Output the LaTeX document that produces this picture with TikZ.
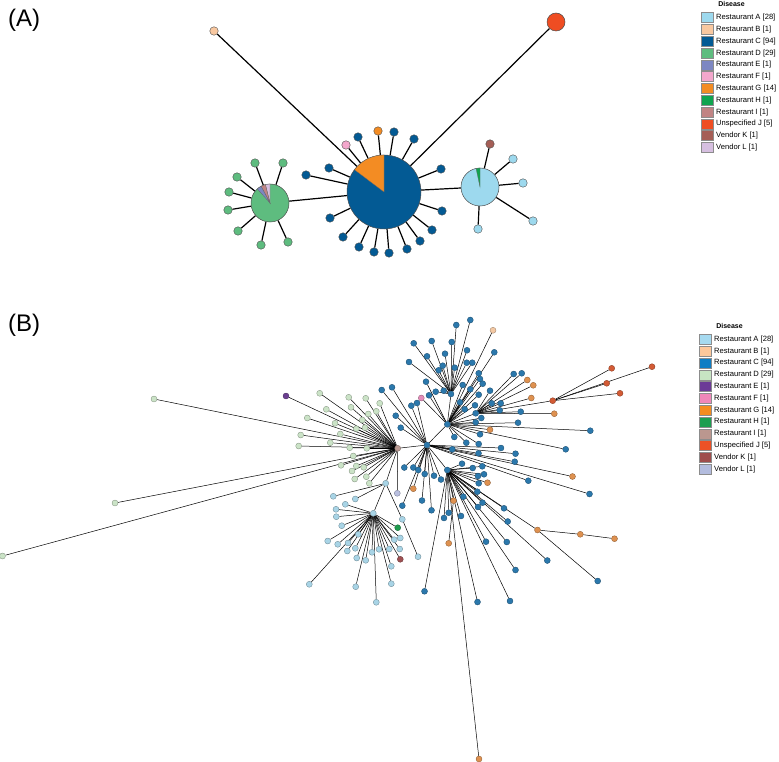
\documentclass[tikz,border=0pt]{standalone}
\usepackage{fontspec}
\setmainfont{Liberation Sans}
\pgfdeclarelayer{edges}
\pgfsetlayers{edges,main}
% panel A colours
\definecolor{AA}{HTML}{9DD9EE}
\definecolor{AB}{HTML}{F9C8A0}
\definecolor{AC}{HTML}{035A94}
\definecolor{AD}{HTML}{5EBC7F}
\definecolor{AE}{HTML}{7D87C2}
\definecolor{AF}{HTML}{F3A7CC}
\definecolor{AG}{HTML}{F38C23}
\definecolor{AH}{HTML}{0FA44F}
\definecolor{AI}{HTML}{C08484}
\definecolor{AJ}{HTML}{EF4D22}
\definecolor{AK}{HTML}{A55E56}
\definecolor{AL}{HTML}{D6BFE0}
% panel B legend colours
\definecolor{BA}{HTML}{A6DAF0}
\definecolor{BB}{HTML}{FDC89B}
\definecolor{BC}{HTML}{0D7DC4}
\definecolor{BD}{HTML}{C7E5C3}
\definecolor{BE}{HTML}{6C3A97}
\definecolor{BF}{HTML}{F087B9}
\definecolor{BG}{HTML}{F48C20}
\definecolor{BH}{HTML}{1C9E50}
\definecolor{BI}{HTML}{BB978F}
\definecolor{BJ}{HTML}{EC5126}
\definecolor{BK}{HTML}{9F4D4C}
\definecolor{BL}{HTML}{B3BCDE}
% panel B node colours
\definecolor{nA}{HTML}{A8D4E6}
\definecolor{nB}{HTML}{F3C8A3}
\definecolor{nC}{HTML}{2B78AC}
\definecolor{nD}{HTML}{CBE3C7}
\definecolor{nE}{HTML}{6B3F90}
\definecolor{nF}{HTML}{E38DBA}
\definecolor{nG}{HTML}{DE9150}
\definecolor{nH}{HTML}{1F9B4E}
\definecolor{nI}{HTML}{B99A92}
\definecolor{nJ}{HTML}{D35B35}
\definecolor{nK}{HTML}{9E5052}
\definecolor{nL}{HTML}{B9BFDF}
\newcommand\grp[6]{%
  \foreach \x/\y [count=\i] in {#6} {%
    \node[#2=#3] (#4\i) at (\x,\y) {};
    \begin{pgfonlayer}{edges}\draw[#5] (#1) -- (#4\i);\end{pgfonlayer}
  }}
\begin{document}
\begin{tikzpicture}[x=1pt,y=-1pt,
  aleaf/.style={circle,inner sep=0pt,minimum size=8.5pt,fill=#1,draw=black!70,line width=0.4pt},
  bleaf/.style={circle,inner sep=0pt,minimum size=6pt,fill=#1,draw=#1!65!black,line width=0.35pt},
  ahub/.style={circle,inner sep=0pt,fill=#1,draw=black!70,line width=0.5pt},
  aedge/.style={line width=1.2pt,black},
  bedge/.style={line width=0.5pt,black},
  legbox/.style={draw=black!45,line width=0.4pt,fill=#1,minimum width=12pt,minimum height=10pt,inner sep=0pt},
  legtext/.style={anchor=west,inner sep=0pt,font=\fontsize{7.6}{9}\selectfont},
  legtitle/.style={inner sep=0pt,font=\fontsize{7}{8}\selectfont\bfseries},
  panel/.style={anchor=west,inner sep=0pt,font=\fontsize{24}{28}\selectfont},
  wedge/.style={draw=black!60,line width=0.3pt}
]
\useasboundingbox (0,0) rectangle (779,762);

% ---------------- panel labels
\node[panel] (labA) at (8,20) {(A)};
\node[panel] (labB) at (8,325) {(B)};

% ---------------- Panel A
\node[ahub=AC,minimum size=74pt] (aC) at (384,192) {};
\fill[AG,wedge] (aC.center) -- ++(217:37) arc[start angle=217,end angle=270,radius=37] -- cycle;
\node[ahub=AD,minimum size=38pt] (aD) at (270,203) {};
\fill[AL,wedge] (aD.center) -- ++(256:19) arc[start angle=256,end angle=270,radius=19] -- cycle;
\fill[AI,wedge] (aD.center) -- ++(242:19) arc[start angle=242,end angle=256,radius=19] -- cycle;
\fill[AE,wedge] (aD.center) -- ++(228:19) arc[start angle=228,end angle=242,radius=19] -- cycle;
\node[ahub=AA,minimum size=38pt] (aA) at (480,187) {};
\fill[AH,wedge] (aA.center) -- ++(258:19) arc[start angle=258,end angle=270,radius=19] -- cycle;
\node[aleaf=AB] (aB) at (214,31) {};
\node[ahub=AJ,minimum size=18pt] (aJ) at (556,22) {};
\begin{pgfonlayer}{edges}
\draw[aedge] (aC) -- (aD);
\draw[aedge] (aC) -- (aA);
\draw[aedge] (aC) -- (aB);
\draw[aedge] (aC) -- (aJ);
\end{pgfonlayer}
\grp{aC}{aleaf}{AC}{ac}{aedge}{306/175,329/168,358/137,394/132,414/139,441/169,442/211,432/230,420/241,407/249,389/253,374/252,359/247,343/237,330/218}
\grp{aC}{aleaf}{AF}{acf}{aedge}{346/145}
\grp{aC}{aleaf}{AG}{acg}{aedge}{378/131}
\grp{aD}{aleaf}{AD}{ad}{aedge}{255/163,283/163,237/177,229/192,228/210,238/231,261/245,288/242}
\grp{aA}{aleaf}{AA}{aa}{aedge}{513/159,523/183,533/221,478/229}
\grp{aA}{aleaf}{AK}{aak}{aedge}{490/144}

% ---------------- Legend A
\node[legtitle] (ltA) at (731.5,4) {Disease};
\foreach \c/\t [count=\i from 0] in {AA/Restaurant A [28],AB/Restaurant B [1],AC/Restaurant C [94],AD/Restaurant D [29],AE/Restaurant E [1],AF/Restaurant F [1],AG/Restaurant G [14],AH/Restaurant H [1],AI/Restaurant I [1],AJ/Unspecified J [5],AK/Vendor K [1],AL/Vendor L [1]} {
  \node[legbox=\c] (lba\i) at (707,{17.7+11.8*\i}) {};
  \node[legtext] (lta\i) at (716,{17.7+11.8*\i}) {\t};
}

% ---------------- Panel B hubs
\node[bleaf=nI] (hD) at (397.7,448.3) {};
\node[bleaf=nC] (hC) at (427,445) {};
\node[bleaf=nC] (hU) at (447.3,424.3) {};
\node[bleaf=nC] (hT) at (451,394) {};
\node[bleaf=nC] (hR) at (475.7,413.3) {};
\node[bleaf=nC] (hL) at (447.3,470) {};
\node[bleaf=nA] (hS) at (385.7,483.3) {};
\node[bleaf=nA] (hA) at (373.3,513.3) {};
\node[bleaf=nJ] (hJ) at (552.7,400.7) {};
\node[bleaf=nG] (hO) at (537.5,530) {};
\node[bleaf=nG] (hP) at (453.5,500.7) {};
\node[bleaf=nA] (ch1) at (402.3,519.3) {};
\node[bleaf=nA] (ch2) at (418,556.7) {};
\node[bleaf=nG] (oc1) at (580.3,534.3) {};
\node[bleaf=nG] (oc2) at (614.5,538.7) {};
\node[bleaf=nC] (ob1) at (597.7,581) {};
\node[bleaf=nG] (op1) at (448.7,543.3) {};
\begin{pgfonlayer}{edges}
\draw[bedge] (hD) -- (hC);
\draw[bedge] (hC) -- (hU);
\draw[bedge] (hC) -- (hL);
\draw[bedge] (hU) -- (hT);
\draw[bedge] (hU) -- (hR);
\draw[bedge] (hD) -- (hS);
\draw[bedge] (hS) -- (hA);
\draw[bedge] (hR) -- (hJ);
\draw[bedge] (hL) -- (hO);
\draw[bedge] (hL) -- (hP);
\draw[bedge] (hS) -- (ch1);
\draw[bedge] (ch1) -- (ch2);
\draw[bedge] (hO) -- (oc1);
\draw[bedge] (oc1) -- (oc2);
\draw[bedge] (hO) -- (ob1);
\draw[bedge] (hP) -- (op1);
\end{pgfonlayer}

% ---------------- Panel B leaves
\grp{hD}{bleaf}{nD}{dd}{bedge}{319.7/393.3,348.7/397.3,365.7/398.3,379.7/403.3,326.3/409.3,351/407.3,368.3/414,376.3/411.3,307.3/418,335/423.3,362.3/420,356.3/428.7,365/427.7,300.7/435,340.3/434,330.3/442.7,298.7/446,349.7/447.7,366.7/448.3,353.3/456,341/465.3,356.3/466,363.7/467.3,352/471,366.3/476.7,354.7/479,369.3/483.3,154/399,115/503,2.5/556}
\grp{hD}{bleaf}{nE}{de}{bedge}{286/396}
\grp{hD}{bleaf}{nL}{dl}{bedge}{397.3/493.3}
\grp{hA}{bleaf}{nA}{aq}{bedge}{345.3/504.3,336/509.3,336.3/516.7,341.7/525.7,358.3/534.3,327.7/541,337.7/544.3,348/543,355.3/548.3,347.3/551,356.7/558,365.7/560.3,372/552.3,379/549.3,389.3/549,399.7/549,394.3/539.7,400.3/538,391.3/566.3,391.3/583.7,355.7/586.7,309.3/584.3,376.3/602.3}
\grp{hA}{bleaf}{nH}{ah}{bedge}{397.7/527.7}
\grp{hA}{bleaf}{nK}{ak}{bedge}{400.3/559.3}
\grp{hS}{bleaf}{nA}{sq}{bedge}{333.3/496.3,355.3/499}
\grp{hT}{bleaf}{nC}{tq}{bedge}{456.3/325,470.3/320,413.7/343.3,431.7/341,451.7/342,467/350.3,427/356.3,445/353.7,409/362,438.7/370.3,442.7/365.7,454.7/367.7,466.7/362.7,472.3/362.7,435.7/391.7,443.7/390.7}
\grp{hU}{bleaf}{nC}{uq}{bedge}{429/395.3,426/381.7,494.3/352.3,462.7/385,470.3/389.3,478.7/394.7,478.7/373.3,480/379,482.7/383.7,460/402.3,464.7/409.3,475/405.3,481.3/418,475.7/422.3,518/422.7,590.3/430.7,480/434.3,478.7/444,454.3/437,466.3/442.7,565.7/449.3}
\grp{hU}{bleaf}{nF}{uf}{bedge}{421.3/398}
\grp{hU}{bleaf}{nB}{ub}{bedge}{493/330.3}
\grp{hU}{bleaf}{nG}{ug}{bedge}{490/429.7}
\grp{hR}{bleaf}{nC}{rq}{bedge}{513.7/374,521.7/373.3,520.7/411.7,500.7/403.3,499.7/410.3,491.7/403.3,490/390.7}
\grp{hR}{bleaf}{nG}{rg}{bedge}{527.3/380,533.3/385.3,531.3/398,554.3/413.7}
\grp{hJ}{bleaf}{nJ}{jq}{bedge}{611.7/368.3,652/366.7,606.7/383.3,620/393.3}
\grp{hC}{bleaf}{nC}{cq}{bedge}{381.7/390,392/387.3,395.7/415.7,400.7/427.7,411.3/405.7,417/403,404.3/467.5,413.3/467.5,418.3/470,424.7/474,434/475.7,441/479.5,422/500.5,402.3/505.7,431.5/510.3,452.3/449.3,478.5/453.3,501/448,515.5/453.7,514.7/461.7,528.3/480.7,589.5/494}
\grp{hC}{bleaf}{nG}{cg}{bedge}{413.3/488.7,572.5/476.5}
\grp{hL}{bleaf}{nC}{lq}{bedge}{462/463.7,472.7/468,482.3/466.3,478/476,484/474.3,478.7/483.3,477.3/491.7,463.3/496.7,482.5/502.7,478/507,504/508.3,507.7/521.5,547.3/560.5,515.5/570,486/541.7,506.8/542,448.7/512.7,444/518,461/516,424.5/591.3,477.5/602,510/601}
\grp{hL}{bleaf}{nG}{lg}{bedge}{487.5/482.7,479/759}

% ---------------- Legend B
\node[legtitle] (ltB) at (729.5,325.6) {Disease};
\foreach \c/\t [count=\i from 0] in {BA/Restaurant A [28],BB/Restaurant B [1],BC/Restaurant C [94],BD/Restaurant D [29],BE/Restaurant E [1],BF/Restaurant F [1],BG/Restaurant G [14],BH/Restaurant H [1],BI/Restaurant I [1],BJ/Unspecified J [5],BK/Vendor K [1],BL/Vendor L [1]} {
  \node[legbox=\c] (lbb\i) at (705,{339.4+11.8*\i}) {};
  \node[legtext] (ltb\i) at (714,{339.4+11.8*\i}) {\t};
}
\end{tikzpicture}
\end{document}
